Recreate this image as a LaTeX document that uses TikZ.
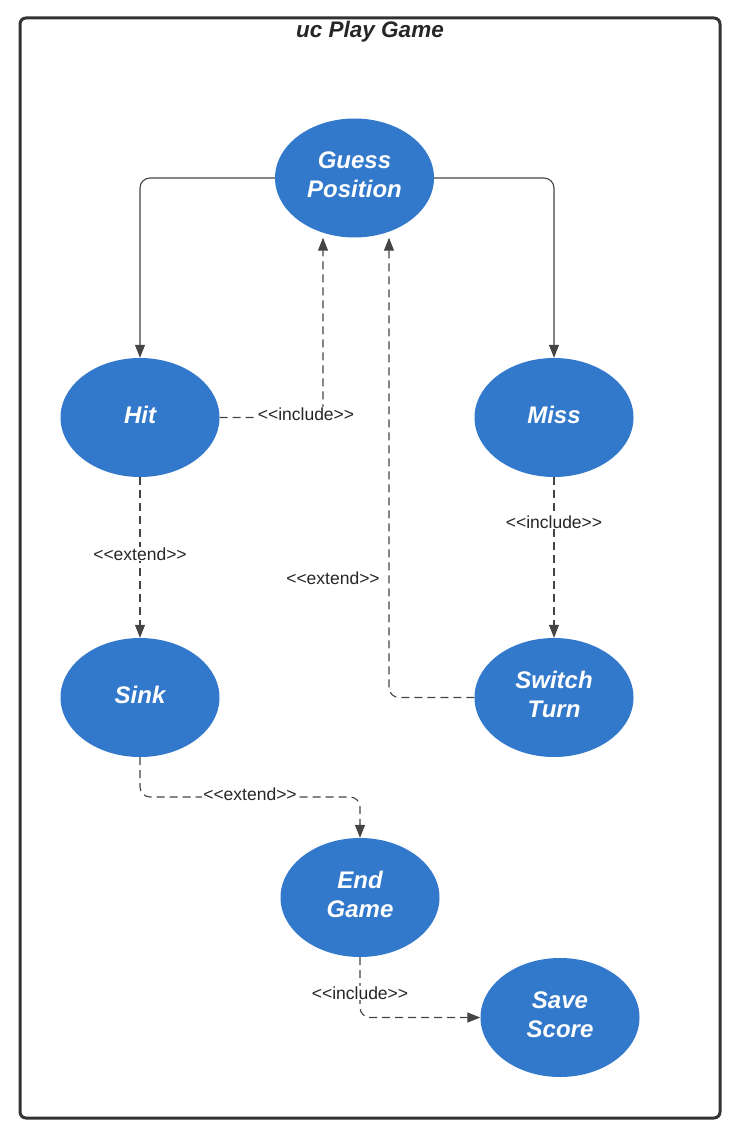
\documentclass[tikz,border=0pt]{standalone}
\usepackage{fontspec}
\setmainfont{Liberation Sans}
\usetikzlibrary{arrows.meta,shapes.geometric}
\definecolor{ucblue}{HTML}{3278CB}
\definecolor{framec}{HTML}{333333}
\definecolor{linec}{HTML}{444444}
\newcommand{\stinc}{<{}<include>{}>}
\newcommand{\stext}{<{}<extend>{}>}
\tikzset{
  uc/.style={ellipse, fill=ucblue, draw=none, minimum width=159pt, minimum height=119pt,
    inner sep=0pt},
  uctext/.style={text=white, align=center, inner sep=0pt,
    font=\fontsize{24}{29}\selectfont\bfseries\itshape},
  solidcon/.style={draw=linec, line width=1.1pt, rounded corners=10pt,
    -{Triangle[length=13pt,width=10pt]}},
  dashcon/.style={draw=linec, line width=1.1pt, rounded corners=10pt,
    dash pattern=on 8pt off 5pt, -{Triangle[length=13pt,width=10pt]}},
  lbl/.style={fill=white, inner sep=1pt, text=black!85, font=\fontsize{17.5}{20}\selectfont},
}
\begin{document}
\begin{tikzpicture}[x=1pt,y=-1pt]
\useasboundingbox (0,0) rectangle (737,1142);
\draw[framec, line width=3pt, rounded corners=6pt] (20,18) rectangle (720,1118);
\node[font=\fontsize{22.5}{26}\selectfont\bfseries\itshape, text=black!85] (title) at (370,32) {uc Play Game};

\node[uc] (guess) at (354.5,178) {};
\node[uc] (hit) at (140,417.5) {};
\node[uc] (miss) at (554,417.5) {};
\node[uc] (sink) at (140,697.5) {};
\node[uc] (switch) at (554,697.5) {};
\node[uc] (end) at (360,897.5) {};
\node[uc] (save) at (560,1017.5) {};
\node[uctext] (tguess) at (354.5,175) {Guess\\Position};
\node[uctext] (thit) at (140,414.5) {Hit};
\node[uctext] (tmiss) at (554,414.5) {Miss};
\node[uctext] (tsink) at (140,694.5) {Sink};
\node[uctext] (tswitch) at (554,694.5) {Switch\\Turn};
\node[uctext] (tend) at (360,894.5) {End\\Game};
\node[uctext] (tsave) at (560,1014.5) {Save\\Score};

\draw[solidcon] (guess.west) -| (hit.north);
\draw[solidcon] (guess.east) -| (miss.north);

\coordinate (hg) at (323,0);
\draw[dashcon] (hit.east) -- (hit.east -| hg) -- (hg |- guess.south);
\node[lbl] (l1) at (306,414) {\stinc};

\draw[dashcon] (hit.south) -- (sink.north);
\node[lbl] (l2) at (140,554) {\stext};
\draw[dashcon] (miss.south) -- (switch.north);
\node[lbl] (l3) at (554,522) {\stinc};

\coordinate (sg) at (389,0);
\draw[dashcon] (switch.west) -- (switch.west -| sg) -- (sg |- guess.south);
\node[lbl, fill=none] (l4) at (333,578) {\stext};

\coordinate (se) at (0,797);
\draw[dashcon] (sink.south) -- (sink.south |- se) -- (end.north |- se) -- (end.north);
\node[lbl] (l5) at (250,794) {\stext};

\draw[dashcon] (end.south) |- (save.west);
\node[lbl] (l6) at (360,993) {\stinc};
\end{tikzpicture}
\end{document}
